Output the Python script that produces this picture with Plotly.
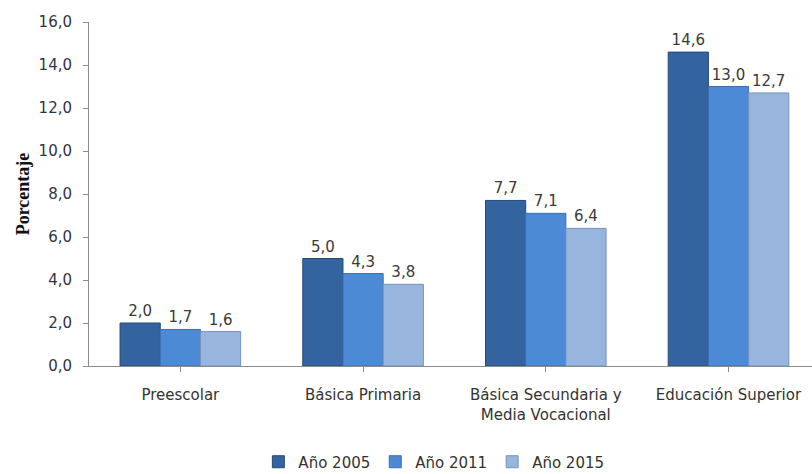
import plotly.graph_objects as go

# Education levels and percentage values per year
categorias = ["Preescolar", "Básica Primaria", "Básica Secundaria y<br>Media Vocacional", "Educación Superior"]
anios = ["Año 2005", "Año 2011", "Año 2015"]
valores_2005 = [2.0, 5.0, 7.7, 14.6]
valores_2011 = [1.7, 4.3, 7.1, 13.0]
valores_2015 = [1.6, 3.8, 6.4, 12.7]
y_ticks = [0, 2, 4, 6, 8, 10, 12, 14, 16]

series = [valores_2005, valores_2011, valores_2015]
colores = ["#34649f", "#4d8ad6", "#98b5de"]
bordes = ["#24497a", "#3a6fb0", "#7592bb"]

fig = go.Figure()
for nombre, vals, color, borde in zip(anios, series, colores, bordes):
    fig.add_trace(go.Bar(
        x=list(range(len(categorias))),
        y=vals,
        name=nombre,
        marker=dict(color=color, line=dict(color=borde, width=1)),
        text=[f"{v:.1f}".replace(".", ",") for v in vals],
        textposition="outside",
        textfont=dict(family="DejaVu Sans", size=15, color="#3a3a3a"),
        cliponaxis=False,
    ))

fig.update_layout(
    width=812,
    height=474,
    margin=dict(l=89, r=0, t=22, b=108, autoexpand=False),
    plot_bgcolor="white",
    paper_bgcolor="white",
    barmode="group",
    bargap=0.34,
    bargroupgap=0,
    separators=",.",
    font=dict(family="DejaVu Sans", size=15, color="#333333"),
    showlegend=True,
    legend=dict(
        orientation="h",
        x=0.477, xanchor="center",
        y=-0.279, yanchor="middle",
        font=dict(family="DejaVu Sans", size=15, color="#333333"),
        itemwidth=30,
        traceorder="normal",
    ),
    xaxis=dict(
        tickmode="array",
        tickvals=list(range(len(categorias))),
        ticktext=categorias,
        range=[-0.5, 3.457],
        showline=True,
        linecolor="#8c8c8c",
        linewidth=1,
        ticks="outside",
        tickson="boundaries",
        ticklen=5,
        tickcolor="#8c8c8c",
        showgrid=False,
        automargin=False,
        ticklabelstandoff=10,
        tickfont=dict(family="DejaVu Sans", size=15, color="#333333"),
    ),
    yaxis=dict(
        range=[0, 16],
        tickvals=y_ticks,
        tickformat=".1f",
        showline=True,
        linecolor="#8c8c8c",
        linewidth=1,
        ticks="outside",
        ticklen=5,
        tickcolor="#8c8c8c",
        showgrid=False,
        zeroline=False,
        automargin=False,
        ticklabelstandoff=8,
        tickfont=dict(family="DejaVu Sans", size=15, color="#333344"),
        title=dict(
            text="<b>Porcentaje</b>",
            font=dict(family="Liberation Serif", size=18, color="#111111"),
            standoff=4,
        ),
    ),
)

fig.write_html("out.html")
